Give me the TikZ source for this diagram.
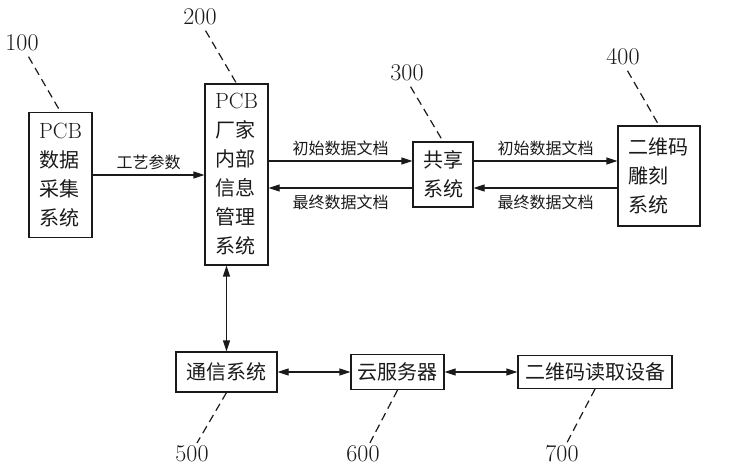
\documentclass[tikz,border=0pt]{standalone}
\usepackage{fontspec}
\usepackage{tikz}
\usetikzlibrary{arrows.meta,calc,positioning}
\newfontfamily\cjk{Noto Sans CJK SC}
\definecolor{Ink}{HTML}{1A1A1A}
\newcommand{\pcb}{{\rmfamily\fontsize{22}{29}\selectfont PCB}}

\begin{document}
\begin{tikzpicture}[
    x=1pt, y=-1pt,
    blockbox/.style={draw=Ink, line width=1.2pt, text=Ink,
      font=\cjk\fontsize{20}{29}\selectfont},
    tallbox/.style={blockbox, align=left, inner xsep=10pt, inner ysep=0pt},
    widebox/.style={blockbox, align=center, inner sep=0pt},
    flowarrow/.style={draw=Ink, line width=1.2pt, -{Triangle[length=11pt,width=7pt]}},
    twoway/.style={flowarrow, {Triangle[length=11pt,width=7pt]}-{Triangle[length=11pt,width=7pt]}},
    edgetag/.style={font=\cjk\fontsize{16}{19}\selectfont, text=Ink},
    refnum/.style={font=\fontsize{24}{28}\selectfont, text=Ink, inner sep=1pt},
    leader/.style={draw=Ink, line width=1.2pt, dash pattern=on 8pt off 5pt}
  ]
  \useasboundingbox (0,0) rectangle (756,468);

  % upper row
  \node[tallbox, text width=43pt, minimum height=125pt] (b100) at (60.5,175)
    {\pcb\\数据\\采集\\系统};
  \node[tallbox, text width=43pt, minimum height=181pt] (b200) at (236.5,174.5)
    {\pcb\\厂家\\内部\\信息\\管理\\系统};
  \node[tallbox, text width=40pt, minimum height=65pt] (b300) at (443,174.5)
    {共享\\系统};
  \node[tallbox, text width=62pt, minimum height=100pt] (b400) at (659,176)
    {二维码\\雕刻\\系统};

  % lower row
  \node[widebox, minimum width=101pt, minimum height=40pt] (b500) at (226.5,372) {通信系统};
  \node[widebox, minimum width=93pt, minimum height=35pt] (b600) at (397.5,372) {云服务器};
  \node[widebox, minimum width=154pt, minimum height=33pt] (b700) at (595,372) {二维码读取设备};

  % data flow
  \coordinate (inline) at ($(b300.west)+(0,-13.5)$);
  \coordinate (outline) at ($(b300.west)+(0,13.5)$);
  \draw[flowarrow] (b100.east) -- (b100.east -| b200.west)
    node[edgetag, midway, above=1pt] (t1) {工艺参数};
  \draw[flowarrow] (b200.east |- inline) -- (inline)
    node[edgetag, midway, above=1pt] (t2) {初始数据文档};
  \draw[flowarrow] (outline) -- (b200.east |- outline)
    node[edgetag, midway, below=3pt] (t3) {最终数据文档};
  \draw[flowarrow] (b300.east |- inline) -- (b400.west |- inline)
    node[edgetag, midway, above=1pt] (t4) {初始数据文档};
  \draw[flowarrow] (b400.west |- outline) -- (b300.east |- outline)
    node[edgetag, midway, below=3pt] (t5) {最终数据文档};
  \draw[twoway] (b500.north |- b200.south) -- (b500.north);
  \draw[twoway] (b500.east) -- (b600.west);
  \draw[twoway] (b600.east) -- (b700.west);

  % reference numerals
  \node[refnum] (n100) at (22,43) {100};
  \node[refnum] (n200) at (200,17) {200};
  \node[refnum] (n300) at (407,73) {300};
  \node[refnum] (n400) at (623,57) {400};
  \node[refnum] (n500) at (192,454) {500};
  \node[refnum] (n600) at (363,454) {600};
  \node[refnum] (n700) at (562,454) {700};
  \draw[leader, shorten <=5pt] ([xshift=4pt]n100.south) -- (b100.north);
  \draw[leader, shorten <=5pt] ([xshift=3pt]n200.south) -- (b200.north);
  \draw[leader, shorten <=5pt] ([xshift=1pt]n300.south) -- (b300.north);
  \draw[leader, shorten <=5pt] ([xshift=2pt]n400.south) -- (b400.north);
  \draw[leader, shorten >=2pt] (b500.south) -- ([xshift=4pt]n500.north);
  \draw[leader, shorten >=2pt] (b600.south) -- ([xshift=6pt]n600.north);
  \draw[leader, shorten >=2pt] (b700.south) -- ([xshift=4pt]n700.north);
\end{tikzpicture}
\end{document}
